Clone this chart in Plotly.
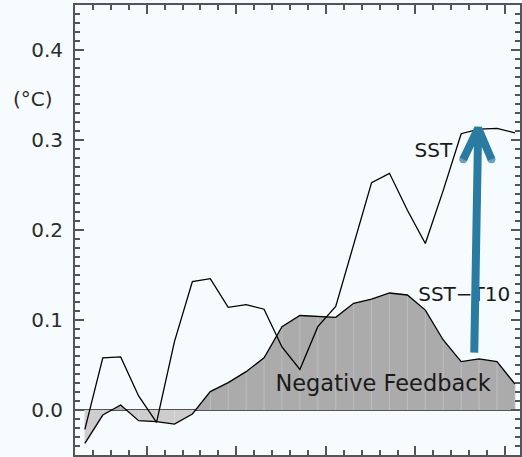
import numpy as np
import plotly.graph_objects as go

# Monthly composite anomalies (°C)
sst = [-0.0215, 0.058, 0.059, 0.0156, -0.0137, 0.076, 0.1426, 0.146, 0.114, 0.117,
       0.112, 0.070, 0.045, 0.0926, 0.115, 0.184, 0.2526, 0.263, 0.222, 0.185,
       0.244, 0.307, 0.312, 0.313, 0.308]
sst_t10 = [-0.037, -0.0056, 0.0056, -0.0119, -0.013, -0.0156, -0.0044, 0.0204, 0.0304, 0.0426,
           0.058, 0.0926, 0.105, 0.1044, 0.103, 0.1185, 0.1233, 0.130, 0.1278, 0.111,
           0.0778, 0.0537, 0.0567, 0.0537, 0.0289]
y_tick_vals = [0.0, 0.1, 0.2, 0.3, 0.4]
y_tick_text = ["0.0", "0.1", "0.2", "0.3", "0.4"]

x = np.arange(len(sst)) - 0.45

FONT = "DejaVu Sans, sans-serif"
TEXT = "#2b2b2b"
FRAME = "#555555"
BG = "#f6fbfd"


def with_crossings(xs, ys):
    """Insert the zero crossings so the curve can be split by sign exactly."""
    ox, oy = [xs[0]], [ys[0]]
    for k in range(1, len(xs)):
        y0, y1 = ys[k - 1], ys[k]
        if y0 * y1 < 0:
            t = y0 / (y0 - y1)
            ox.append(xs[k - 1] + t * (xs[k] - xs[k - 1]))
            oy.append(0.0)
        ox.append(xs[k])
        oy.append(ys[k])
    return np.array(ox), np.array(oy)


fx, fy = with_crossings(x, np.array(sst_t10))

fig = go.Figure()

# shaded area between SST-T10 and zero: darker above, lighter below
fig.add_trace(go.Scatter(x=fx, y=np.minimum(fy, 0), mode="lines", fill="tozeroy",
                         fillcolor="#cdcdcd", line=dict(width=0), hoverinfo="skip"))
fig.add_trace(go.Scatter(x=fx, y=np.maximum(fy, 0), mode="lines", fill="tozeroy",
                         fillcolor="#ababab", line=dict(width=0), hoverinfo="skip"))

# faint vertical strokes at each sample inside the shading
for sign, col in ((1, "#bebebe"), (-1, "#dadada")):
    sx, sy = [], []
    for xi, yi in zip(x, sst_t10):
        if yi * sign > 0:
            sx += [xi, xi, None]
            sy += [0, yi, None]
    fig.add_trace(go.Scatter(x=sx, y=sy, mode="lines", line=dict(color=col, width=1),
                             hoverinfo="skip"))

fig.add_trace(go.Scatter(x=x, y=sst_t10, mode="lines", line=dict(color="black", width=1.3)))
fig.add_trace(go.Scatter(x=x, y=sst, mode="lines", line=dict(color="black", width=1.3)))

# curve labels
labels = [("SST", 19.0, 0.2867, 20), ("SST\u2212T10", 20.72, 0.1267, 20),
          ("Negative Feedback", 16.19, 0.0278, 22.5)]
for txt, lx, ly, size in labels:
    fig.add_trace(go.Scatter(x=[lx], y=[ly], mode="text", text=[txt],
                             textposition="middle center",
                             textfont=dict(family=FONT, size=size, color="#1a1a1a")))

# arrow from the SST-T10 level up to the SST level
ARROW = "#2a7ba1"
tip = (21.5, 0.313)
base = (21.28, 0.0637)
left = (20.67, 0.2786)
right = (22.24, 0.2786)
fig.add_trace(go.Scatter(x=[base[0], tip[0]], y=[base[1], tip[1]], mode="lines",
                         line=dict(color=ARROW, width=8), hoverinfo="skip"))
fig.add_trace(go.Scatter(x=[left[0], tip[0], right[0]], y=[left[1], tip[1], right[1]],
                         mode="lines+markers", line=dict(color=ARROW, width=8),
                         marker=dict(color=ARROW, size=[8, 0, 8], line=dict(width=0)),
                         hoverinfo="skip"))

W, H = 522, 457
L, T, B = 75, 5, 2
x_lo = -1.0
x_hi = x_lo + (W - L) / 18.0

fig.update_layout(
    width=W, height=H,
    margin=dict(l=L, r=0, t=T, b=B, pad=0),
    paper_bgcolor=BG, plot_bgcolor=BG,
    showlegend=False,
    font=dict(family=FONT, size=20, color=TEXT),
    xaxis=dict(range=[x_lo, x_hi], showgrid=False, zeroline=False,
               showline=True, linecolor=FRAME, linewidth=2, mirror="ticks",
               ticks="inside", ticklen=9, tickwidth=1.5, tickcolor=FRAME,
               tickmode="linear", tick0=3, dtick=5, showticklabels=False,
               minor=dict(ticks="inside", ticklen=5, tickwidth=1.5, tickcolor=FRAME,
                          tickmode="linear", tick0=0, dtick=1, showgrid=False)),
    yaxis=dict(range=[-0.05, 0.45], showgrid=False,
               zeroline=True, zerolinecolor=FRAME, zerolinewidth=2,
               showline=True, linecolor=FRAME, linewidth=2, mirror="ticks",
               ticks="inside", ticklen=9, tickwidth=1.5, tickcolor=FRAME,
               tickmode="array", tickvals=y_tick_vals, ticktext=y_tick_text,
               ticklabelstandoff=6,
               tickfont=dict(family=FONT, size=20, color=TEXT),
               minor=dict(ticks="inside", ticklen=5, tickwidth=1.5, tickcolor=FRAME,
                          tickmode="linear", tick0=0, dtick=0.01, showgrid=False)),
    annotations=[dict(text="(\u00b0C)", xref="paper", yref="y",
                      x=(33 - L) / (W - L), y=(410 - 99) / 900.0,
                      xanchor="center", yanchor="middle", showarrow=False,
                      font=dict(family=FONT, size=20, color=TEXT))],
)

fig.write_html("out.html")
